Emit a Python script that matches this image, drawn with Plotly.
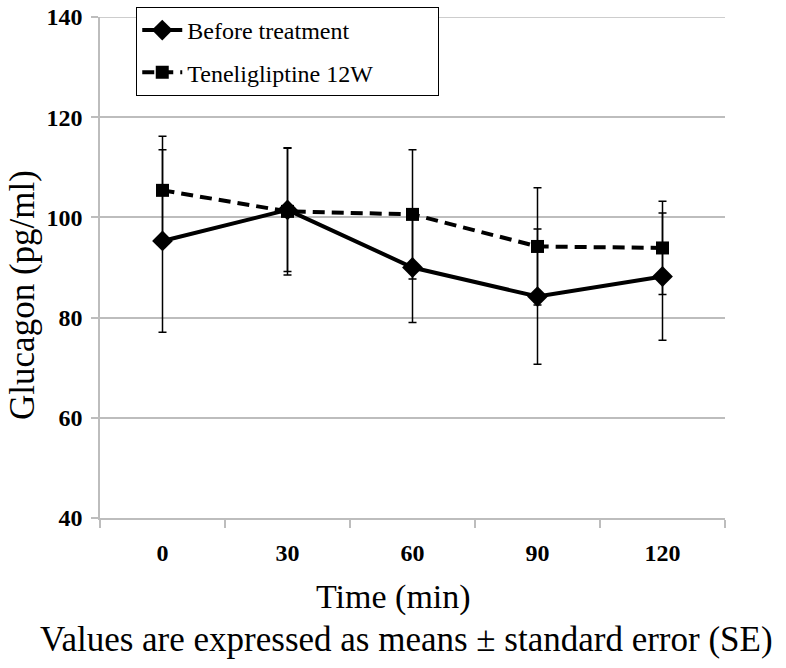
import plotly.graph_objects as go

time_labels = ["0", "30", "60", "90", "120"]
before_vals = [95.3, 101.5, 90.0, 84.2, 88.2]
before_se = [18.2, 12.3, 11.0, 13.5, 12.7]
tene_vals = [105.4, 101.2, 100.6, 94.2, 93.9]
tene_se = [10.8, 12.7, 12.9, 11.7, 9.3]
y_ticks = [40, 60, 80, 100, 120, 140]

FONT = "Liberation Serif, Times New Roman, serif"
GRAY = "#bdbdbd"
PAD = "\u00a0" * 10

fig = go.Figure()
fig.add_trace(go.Scatter(
    x=time_labels, y=before_vals, name="Before treatment", mode="lines+markers",
    line=dict(color="black", width=4),
    marker=dict(symbol="diamond", size=16, color="black"),
    error_y=dict(type="data", array=before_se, visible=True, color="black", thickness=1.5, width=4),
    legendgroup="a",
))
fig.add_trace(go.Scatter(
    x=time_labels, y=tene_vals, name="Teneligliptine 12W" + PAD, mode="lines+markers",
    line=dict(color="black", width=4, dash="12px,7px"),
    marker=dict(symbol="square", size=13, color="black"),
    error_y=dict(type="data", array=tene_se, visible=True, color="black", thickness=1.5, width=4),
    legendgroup="b",
))

fig.update_layout(
    width=786, height=668,
    margin=dict(l=100, r=61, t=17, b=150, autoexpand=False),
    paper_bgcolor="white", plot_bgcolor="white",
    font=dict(family=FONT, color="black"),
    showlegend=True,
    legend=dict(
        x=0.058, y=1.02, xanchor="left", yanchor="top",
        bordercolor="black", borderwidth=1, bgcolor="white",
        font=dict(family=FONT, size=24, color="black"),
        traceorder="grouped", tracegroupgap=8,
        itemwidth=40,
    ),
    xaxis=dict(
        type="category", categoryorder="array", categoryarray=time_labels,
        range=[-0.5, len(time_labels) - 0.5],
        tickson="boundaries", ticks="outside", ticklen=8, tickcolor=GRAY, tickwidth=1.5,
        showline=True, linecolor=GRAY, linewidth=1.5, showgrid=False, zeroline=False,
        tickfont=dict(family=FONT, size=24, weight="bold", color="black"),
        ticklabelstandoff=12,
    ),
    yaxis=dict(
        range=[40, 140], tickvals=y_ticks, ticks="outside", ticklen=7, tickcolor=GRAY, tickwidth=1.5,
        showline=True, linecolor=GRAY, linewidth=1.5, showgrid=True, gridcolor=GRAY, gridwidth=1.5,
        zeroline=False, ticklabeloverflow="allow",
        tickfont=dict(family=FONT, size=24, weight="bold", color="black"),
        ticklabelstandoff=4,
    ),
    shapes=[
        dict(type="line", xref="paper", yref="y", x0=0, x1=1, y0=y_ticks[-1], y1=y_ticks[-1],
             line=dict(color=GRAY, width=1.5), layer="below"),
    ],
    annotations=[
        dict(text="Glucagon (pg/ml)", textangle=-90, xref="paper", yref="paper",
             x=-0.125, y=0.445, xanchor="center", yanchor="middle", showarrow=False,
             font=dict(family=FONT, size=35, color="black")),
        dict(text="Time (min)", xref="paper", yref="paper",
             x=0.47, y=-0.158, xanchor="center", yanchor="middle", showarrow=False,
             font=dict(family=FONT, size=34, color="black")),
        dict(text="Values are expressed as means \u00b1 standard error (SE)", xref="paper", yref="paper",
             x=0.49, y=-0.243, xanchor="center", yanchor="middle", showarrow=False,
             font=dict(family=FONT, size=35, color="black")),
    ],
)

fig.write_html("out.html", config={"displayModeBar": False},
               post_script="document.body.style.margin='0';")
